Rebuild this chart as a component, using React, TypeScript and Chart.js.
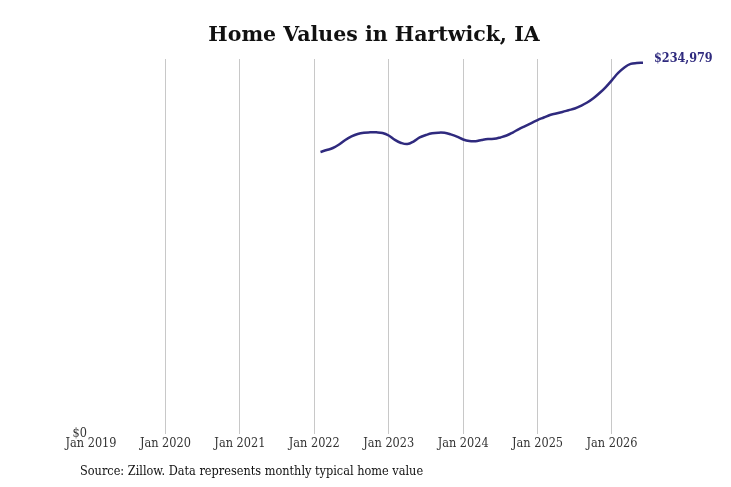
import { useEffect, useRef } from "react";
import { Chart, ChartConfiguration, registerables, Plugin } from "chart.js";

Chart.register(...registerables);

const TITLE = "Home Values in Hartwick, IA";
const SOURCE = "Source: Zillow. Data represents monthly typical home value";

// monthly dates, Feb 2022 .. Jun 2026
const months = [
  "2022-02", "2022-03", "2022-04", "2022-05", "2022-06", "2022-07", "2022-08", "2022-09", "2022-10", "2022-11", "2022-12",
  "2023-01", "2023-02", "2023-03", "2023-04", "2023-05", "2023-06", "2023-07", "2023-08", "2023-09", "2023-10", "2023-11", "2023-12",
  "2024-01", "2024-02", "2024-03", "2024-04", "2024-05", "2024-06", "2024-07", "2024-08", "2024-09", "2024-10", "2024-11", "2024-12",
  "2025-01", "2025-02", "2025-03", "2025-04", "2025-05", "2025-06", "2025-07", "2025-08", "2025-09", "2025-10", "2025-11", "2025-12",
  "2026-01", "2026-02", "2026-03", "2026-04", "2026-05", "2026-06",
];

const homeValues = [
  178500, 179700, 181000, 183200, 186100, 188300, 189900, 190700, 190900, 190900, 190500,
  188900, 186100, 184200, 183500, 185100, 187700, 189200, 190300, 190700, 190600, 189600, 188200,
  186400, 185400, 185300, 186100, 186700, 186800, 187700, 188900, 190800, 193000, 194900, 196800,
  198700, 200300, 201900, 202800, 203800, 204900, 206000, 207700, 209800, 212500, 215800, 219600,
  224000, 228500, 232000, 234200, 234800, 234979,
];

const tickYears = [2019, 2020, 2021, 2022, 2023, 2024, 2025, 2026];

const START_YEAR = 2019;
const monthIndex = (d: string) => {
  const [y, m] = d.split("-").map(Number);
  return (y - START_YEAR) * 12 + (m - 1);
};

const LINE_COLOR = "#2f2a7e";
const SERIF = "'DejaVu Serif Condensed', 'DejaVu Serif'";

const textPlugin: Plugin<"line"> = {
  id: "texts",
  afterDraw(chart) {
    const { ctx } = chart;
    ctx.save();
    ctx.fillStyle = "#111";
    ctx.font = "bold 20.5px 'DejaVu Serif'";
    ctx.textAlign = "center";
    ctx.textBaseline = "middle";
    ctx.fillText(TITLE, 374, 36);

    ctx.font = `12.6px ${SERIF}`;
    ctx.textAlign = "left";
    ctx.fillStyle = "#111";
    ctx.fillText(SOURCE, 80, 472);

    // end-of-line value label
    const meta = chart.getDatasetMeta(0);
    const last = meta.data[meta.data.length - 1];
    const v = homeValues[homeValues.length - 1];
    ctx.font = `bold 12.5px ${SERIF}`;
    ctx.fillStyle = LINE_COLOR;
    ctx.fillText("$" + v.toLocaleString("en-US"), last.x + 11, last.y - 4);
    ctx.restore();
  },
};

export default function App() {
  const canvasRef = useRef<HTMLCanvasElement>(null);
  const chartRef = useRef<Chart | null>(null);

  useEffect(() => {
    if (!canvasRef.current) return;
    if (chartRef.current) chartRef.current.destroy();
    const ctx = canvasRef.current.getContext("2d");
    if (!ctx) return;

    const points = months.map((d, i) => ({ x: monthIndex(d), y: homeValues[i] }));
    const maxVal = Math.max(...homeValues);

    const config: ChartConfiguration<"line"> = {
      type: "line",
      data: {
        datasets: [
          {
            data: points,
            borderColor: LINE_COLOR,
            borderWidth: 2.5,
            pointRadius: 0,
            tension: 0.4,
            fill: false,
          },
        ],
      },
      options: {
        animation: false,
        responsive: true,
        maintainAspectRatio: false,
        layout: { padding: { top: 59, right: 88, bottom: 0, left: 0 } },
        plugins: {
          legend: { display: false },
          tooltip: { enabled: false },
        },
        scales: {
          x: {
            type: "linear",
            min: 0,
            max: monthIndex(months[months.length - 1]),
            afterBuildTicks: (s) => {
              s.ticks = tickYears.map((y) => ({ value: (y - START_YEAR) * 12 }));
            },
            afterFit: (s) => {
              s.height = 53;
            },
            ticks: {
              padding: 2,
              maxRotation: 0,
              autoSkip: false,
              color: "#333",
              font: { family: SERIF, size: 12.6 },
              callback: (v) => "Jan " + (START_YEAR + Number(v) / 12),
            },
            grid: {
              drawTicks: false,
              color: (c) => (c.tick && c.tick.value === 0 ? "rgba(0,0,0,0)" : "#c8c8c8"),
              lineWidth: 1,
            },
            border: { display: false },
          },
          y: {
            min: 0,
            max: maxVal * 1.01,
            afterBuildTicks: (s) => {
              s.ticks = [{ value: 0 }];
            },
            afterFit: (s) => {
              s.width = 91;
            },
            ticks: {
              padding: 4,
              color: "#333",
              font: { family: SERIF, size: 12.6 },
              callback: (v) => "$" + v,
            },
            grid: { display: false, drawTicks: false },
            border: { display: false },
          },
        },
      },
      plugins: [textPlugin],
    };

    chartRef.current = new Chart(ctx, config);
    return () => {
      if (chartRef.current) {
        chartRef.current.destroy();
        chartRef.current = null;
      }
    };
  }, []);

  return (
    <div style={{ position: "fixed", left: 0, top: 0, width: 731, height: 487, background: "#fff" }}>
      <canvas ref={canvasRef} />
    </div>
  );
}
